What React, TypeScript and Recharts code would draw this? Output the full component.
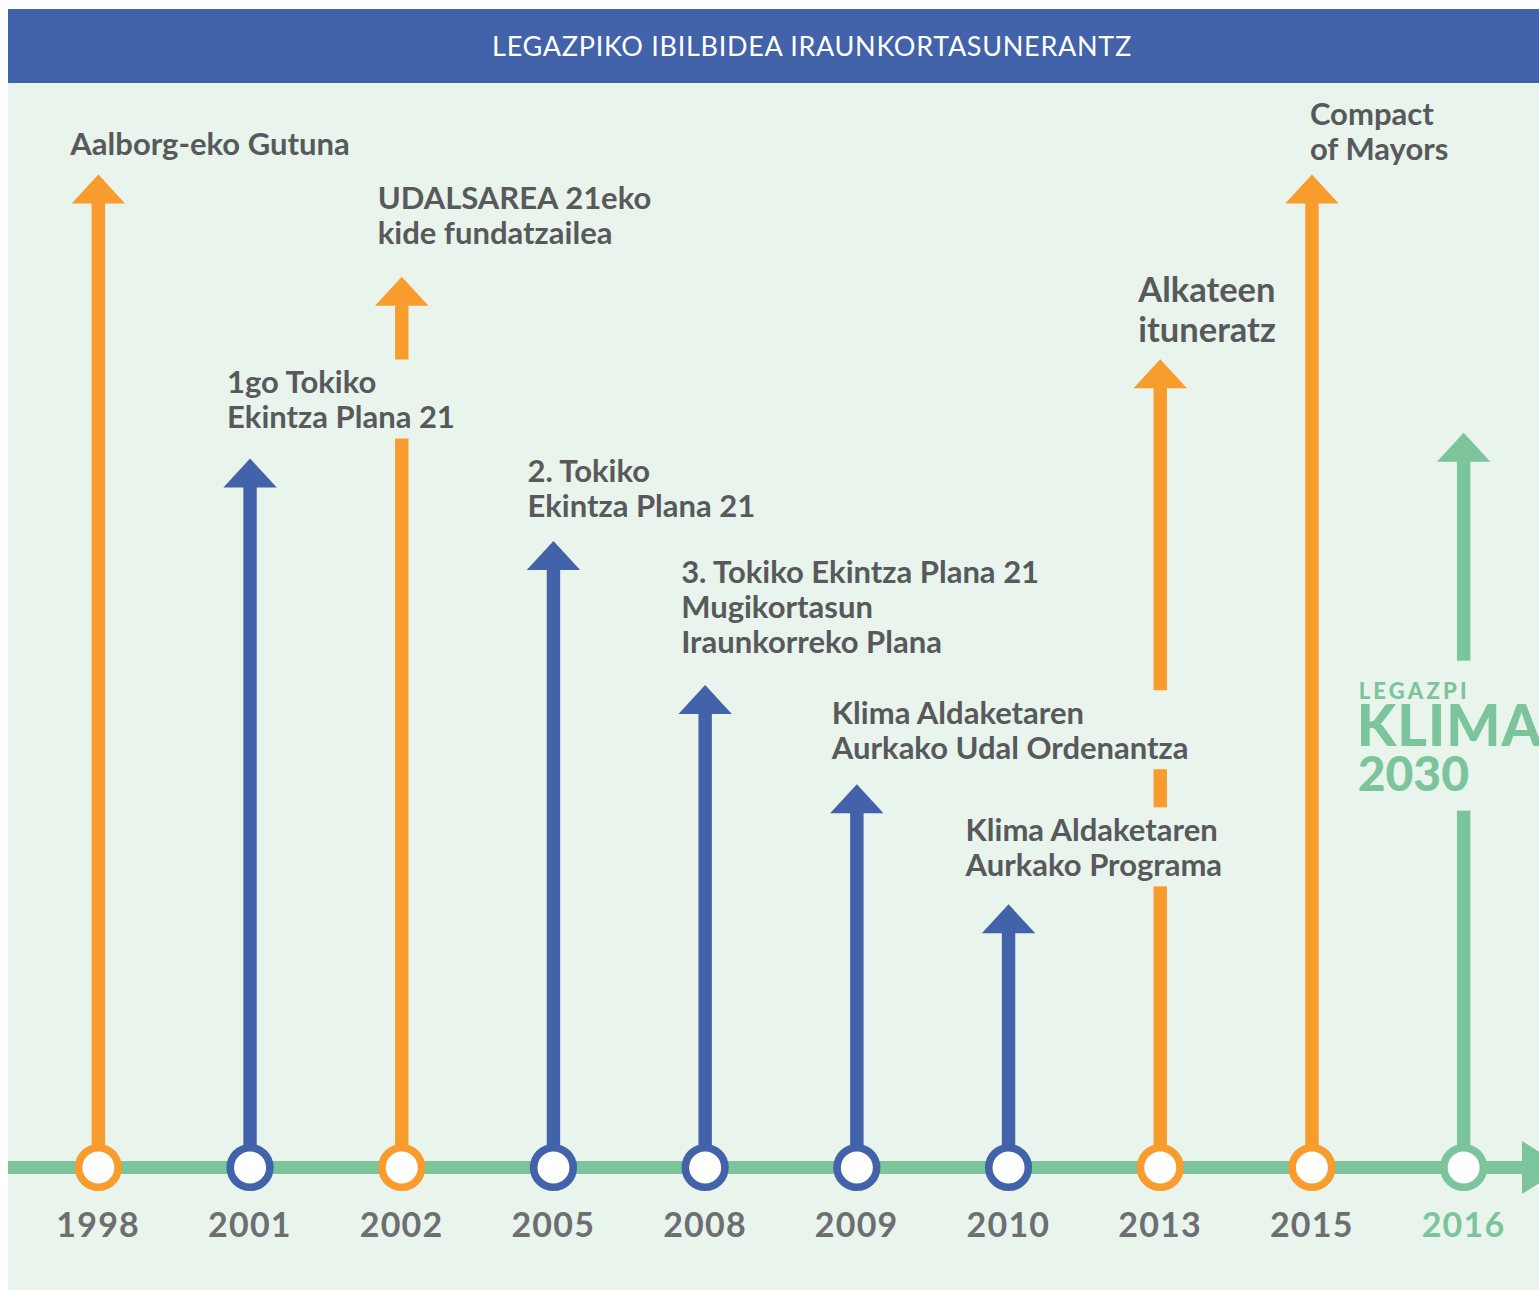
import React from 'react';
import { ComposedChart, Bar, XAxis, YAxis, ReferenceLine, LabelList } from 'recharts';

// ---------- data ----------
const YEARS = ['1998', '2001', '2002', '2005', '2008', '2009', '2010', '2013', '2015', '2016'];
// arrow height (share of the tallest arrow, 0-100)
const HEIGHTS = [100, 71.4, 89.7, 63.1, 48.6, 38.6, 26.5, 81.4, 100, 74.0];
const KINDS = ['agreement', 'plan', 'agreement', 'plan', 'plan', 'plan', 'plan', 'agreement', 'agreement', 'klima'];
const LABEL_LINES: string[][] = [
  ['Aalborg-eko Gutuna'],
  ['1go Tokiko', 'Ekintza Plana 21'],
  ['UDALSAREA 21eko', 'kide fundatzailea'],
  ['2. Tokiko', 'Ekintza Plana 21'],
  ['3. Tokiko Ekintza Plana 21', 'Mugikortasun', 'Iraunkorreko Plana'],
  ['Klima Aldaketaren', 'Aurkako Udal Ordenantza'],
  ['Klima Aldaketaren', 'Aurkako Programa'],
  ['Alkateen', 'ituneratz'],
  ['Compact', 'of Mayors'],
  [],
];
const LOGO_LINES = ['LEGAZPI', 'KLIMA', '2030'];
const TITLE = 'LEGAZPIKO IBILBIDEA IRAUNKORTASUNERANTZ';

const data = YEARS.map((year, i) => ({
  year,
  height: HEIGHTS[i],
  kind: KINDS[i],
}));

// ---------- styles ----------
const BLUE = '#4262A9';
const ORANGE = '#F89C2E';
const GREEN = '#7BC49C';
const BG = '#E8F4EC';
const TEXT = '#58595B';
const YEAR_TEXT = '#6D6E71';
const COLORS: Record<string, string> = { agreement: ORANGE, plan: BLUE, klima: GREEN };
const FONT = 'Lato, "Open Sans", sans-serif';

// label placement relative to the arrow (dx from arrow centre, gap = last baseline above tip)
const LABEL_LAYOUT = [
  { dx: -28, gap: 20, lineH: 35, boxW: 295, size: 31 },
  { dx: -23, gap: 30, lineH: 35, boxW: 245, size: 31 },
  { dx: -24, gap: 33, lineH: 35, boxW: 280, size: 31 },
  { dx: -26, gap: 24, lineH: 35, boxW: 245, size: 31 },
  { dx: -24, gap: 32, lineH: 35, boxW: 375, size: 31 },
  { dx: -25, gap: 25, lineH: 35, boxW: 372, size: 31 },
  { dx: -43, gap: 28, lineH: 35, boxW: 275, size: 31 },
  { dx: -22, gap: 17, lineH: 40, boxW: 160, size: 34.5 },
  { dx: -2, gap: 15, lineH: 35, boxW: 150, size: 31 },
];

const CHART_W = 1560;
const CHART_H = 1207;

const ArrowShape = (props: any) => {
  const { x, y, width, height, payload } = props;
  const cx = x + width / 2;
  const base = y + height;
  const color = COLORS[payload.kind];
  const headH = 29;
  const headW = 53.4;
  const shaftW = 13.4;
  return (
    <g>
      <rect x={cx - shaftW / 2} y={y + headH - 0.5} width={shaftW} height={base - y - headH + 0.5} fill={color} />
      <polygon points={`${cx - headW / 2},${y + headH} ${cx},${y} ${cx + headW / 2},${y + headH}`} fill={color} />
      <circle cx={cx} cy={base} r={19.8} fill="#ffffff" stroke={color} strokeWidth={7.6} />
    </g>
  );
};

const renderLabel = (props: any) => {
  const vb = props.viewBox || {};
  const x = props.x ?? vb.x;
  const y = props.y ?? vb.y;
  const width = props.width ?? vb.width;
  const i = YEARS.indexOf(String(props.value));
  if (i < 0) return null;
  const cx = x + width / 2;
  const top = y;
  if (KINDS[i] === 'klima') {
    const left = cx - 105;
    return (
      <g>
        <rect x={left - 10} y={top + 228} width={240} height={150} fill={BG} />
        <text x={left} y={top + 266} fill={GREEN} fontFamily={FONT} fontWeight={900} fontSize={22} letterSpacing={3.2}>
          {LOGO_LINES[0]}
        </text>
        <text x={left - 2} y={top + 313} fill={GREEN} fontFamily={FONT} fontWeight={900} fontSize={57} letterSpacing={1}>
          {LOGO_LINES[1]}
        </text>
        <text x={left - 1} y={top + 358} fill={GREEN} fontFamily={FONT} fontWeight={900} fontSize={48}>
          {LOGO_LINES[2]}
        </text>
      </g>
    );
  }
  const lay = LABEL_LAYOUT[i];
  const lines = LABEL_LINES[i];
  const left = cx + lay.dx;
  const lastBase = top - lay.gap;
  const firstBase = lastBase - (lines.length - 1) * lay.lineH;
  return (
    <g>
      <rect x={left - 6} y={firstBase - 22 - 12} width={lay.boxW} height={lastBase - firstBase + 22 + 12 + 10} fill={BG} />
      {lines.map((ln, k) => (
        <text key={k} x={left} y={firstBase + k * lay.lineH} fill={TEXT} fontFamily={FONT} fontWeight={700} fontSize={lay.size}>
          {ln}
        </text>
      ))}
    </g>
  );
};

const TimelineShape = (props: any) => {
  const { y1, x2 } = props;
  const thick = 13;
  const headBase = x2 - 17.35;
  const tip = x2 + 24.6;
  return (
    <g>
      <rect x={0} y={y1 - thick / 2} width={headBase + 1} height={thick} fill={GREEN} />
      <polygon points={`${headBase},${y1 - 26.6} ${tip},${y1} ${headBase},${y1 + 26.6}`} fill={GREEN} />
    </g>
  );
};

const YearTick = (props: any) => {
  const { x, y, payload } = props;
  const isLast = payload.value === '2016';
  return (
    <text
      x={x}
      y={y + 69.5}
      textAnchor="middle"
      fill={isLast ? GREEN : YEAR_TEXT}
      fontFamily={FONT}
      fontWeight={700}
      fontSize={34}
      letterSpacing={1.2}
    >
      {payload.value}
    </text>
  );
};

export default function App() {
  return (
    <div style={{ width: CHART_W, marginTop: 1 }}>
      <style>{`html,body{overflow:hidden} body{margin:8px 0 8px 8px}`}</style>
      <div
        style={{
          height: 74,
          background: BLUE,
          overflow: 'hidden',
          position: 'relative',
        }}
      >
        <div
          style={{
            width: 1608,
            textAlign: 'center',
            lineHeight: '74px',
            color: '#ffffff',
            fontFamily: FONT,
            fontWeight: 400,
            fontSize: 27,
            letterSpacing: 0.7,
            whiteSpace: 'nowrap',
          }}
        >
          {TITLE}
        </div>
      </div>
      <div style={{ height: CHART_H, background: BG }}>
        <ComposedChart
          width={CHART_W}
          height={CHART_H}
          data={data}
          margin={{ top: 91.5, right: 28.65, bottom: 42.5, left: 14.35 }}
        >
          <XAxis
            dataKey="year"
            interval={0}
            axisLine={false}
            tickLine={false}
            tickSize={0}
            tickMargin={0}
            height={80}
            tick={<YearTick />}
          />
          <YAxis hide domain={[0, 100]} />
          <ReferenceLine y={0} ifOverflow="visible" shape={(p: any) => <TimelineShape {...p} />} zIndex={0} />
          <Bar dataKey="height" barSize={54} isAnimationActive={false} shape={(p: any) => <ArrowShape {...p} />}>
            <LabelList dataKey="year" content={renderLabel} />
          </Bar>
        </ComposedChart>
      </div>
    </div>
  );
}
